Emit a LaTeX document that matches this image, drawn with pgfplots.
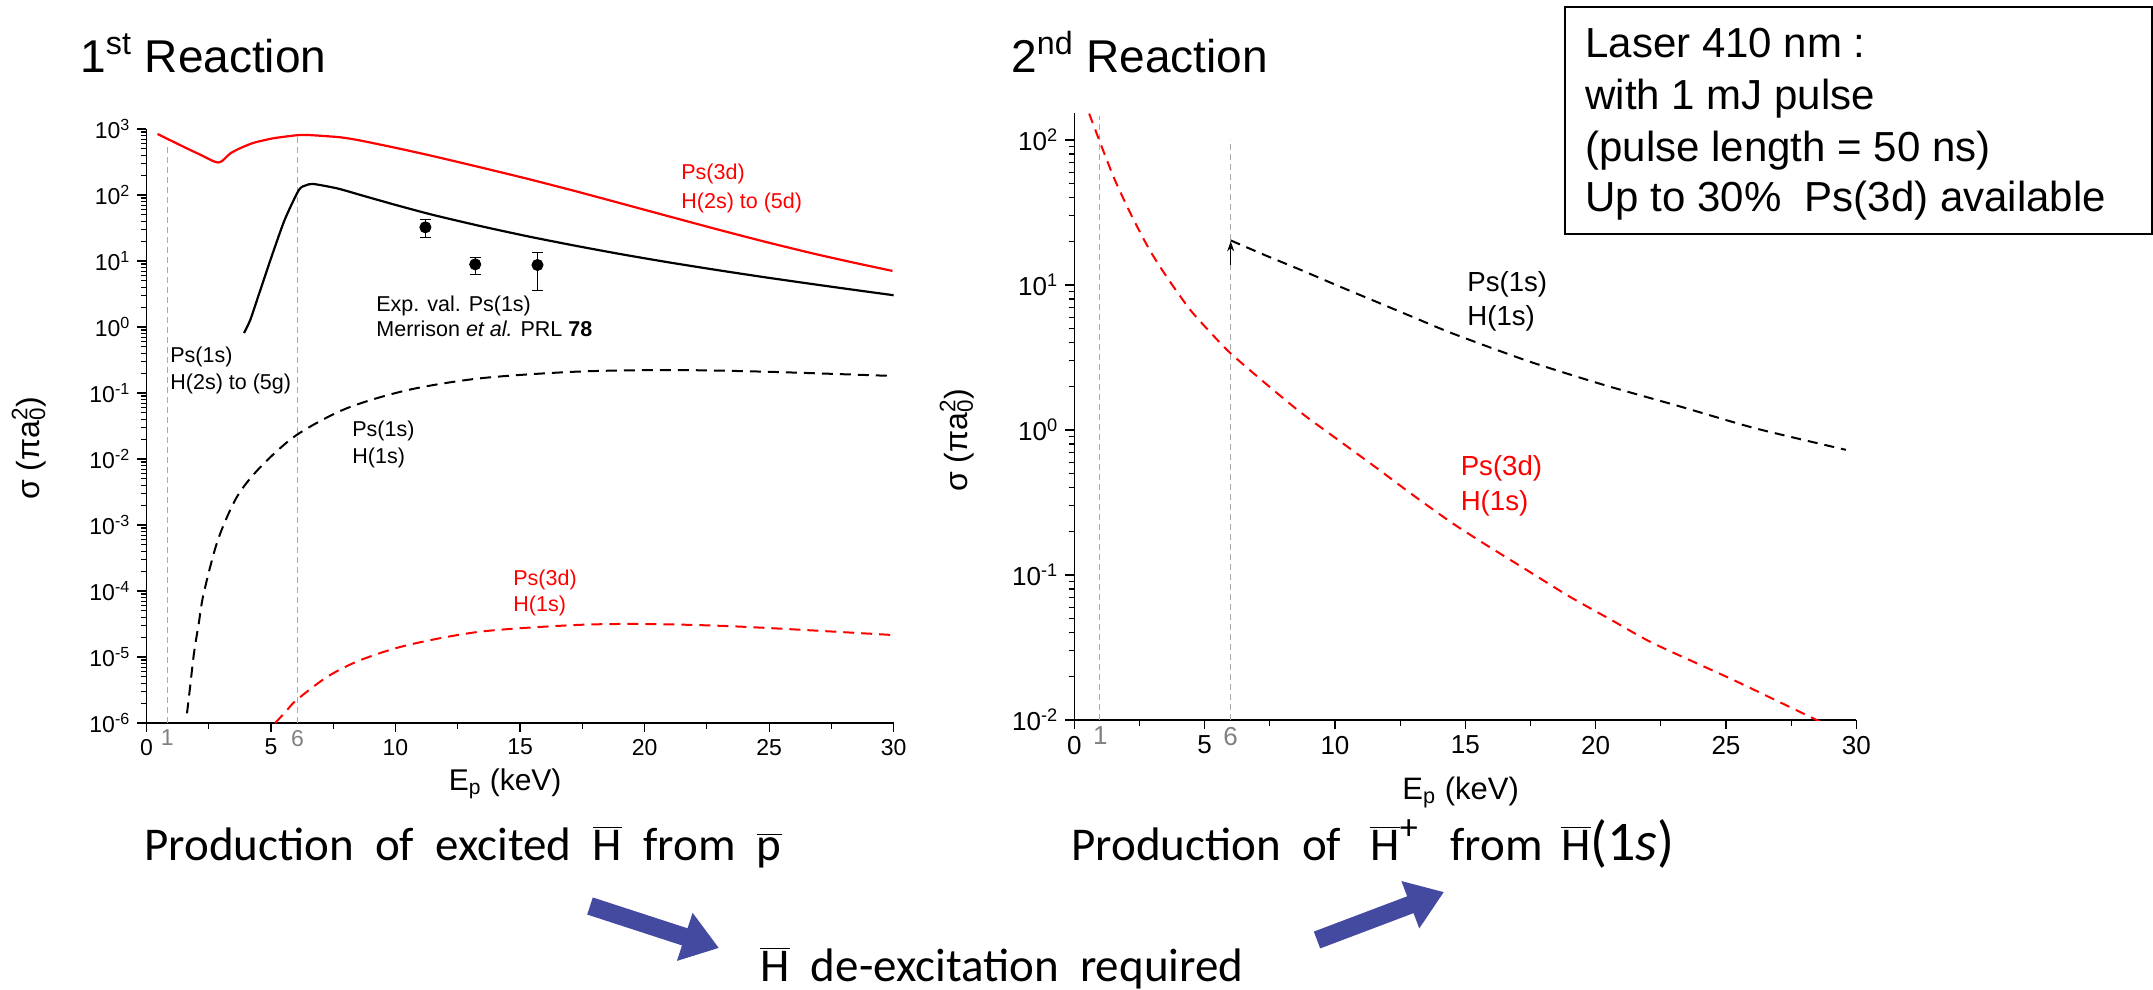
\documentclass[border=0pt]{standalone}
\usepackage{fontspec}
\setmainfont{Liberation Sans}
\newfontfamily\calibri{Carlito}
\usepackage{pgfplots}
\pgfplotsset{compat=1.18}
\usetikzlibrary{arrows.meta}
\definecolor{arrowblue}{RGB}{68,74,160}
\definecolor{vgray}{RGB}{170,170,170}
\pgfplotsset{
  log number format basis/.code 2 args={#1\textsuperscript{\pgfmathprintnumber{#2}}},
}
\begin{document}
\begin{tikzpicture}
\path[use as bounding box] (0pt,0pt) rectangle (1076.5pt,-495pt);

% ---------------- left axis ----------------
\begin{axis}[
  scale only axis,
  axis lines=left, axis line style={-},
  x axis line style={line width=1.3pt},
  y axis line style={line width=0.8pt},
  tick align=outside,
  major tick length=4.5pt, minor tick length=2.8pt,
  every tick/.style={black, line width=0.6pt},
  ymode=log, xmin=0, xmax=30,
  xtick={0,5,...,30}, minor x tick num=1,
  xlabel={E\textsubscript{p} (keV)},
  ylabel={σ (πa\rlap{\textsubscript{0}}\textsuperscript{2})},
  at={(73.2pt,-361.5pt)}, anchor=south west,
  width=373.65pt, height=297pt,
  ymin=1e-6, ymax=1e3,
  ytick={1e-6,1e-5,1e-4,1e-3,1e-2,1e-1,1,10,100,1000},
  minor ytick={2e-6,3e-6,4e-6,5e-6,6e-6,7e-6,8e-6,9e-6,
    2e-5,3e-5,4e-5,5e-5,6e-5,7e-5,8e-5,9e-5,
    2e-4,3e-4,4e-4,5e-4,6e-4,7e-4,8e-4,9e-4,
    2e-3,3e-3,4e-3,5e-3,6e-3,7e-3,8e-3,9e-3,
    0.02,0.03,0.04,0.05,0.06,0.07,0.08,0.09,
    0.2,0.3,0.4,0.5,0.6,0.7,0.8,0.9,
    2,3,4,5,6,7,8,9,20,30,40,50,60,70,80,90,
    200,300,400,500,600,700,800,900},
  extra x ticks={0.84,6.07}, extra x tick labels={\textcolor{gray}{1},\textcolor{gray}{6}},
  extra x tick style={major tick length=0pt},
  tick label style={font=\fontsize{11.5}{13}\selectfont},
  xlabel style={font=\fontsize{15}{17}\selectfont, at={(axis description cs:0.48,-0.1128)}, anchor=base},
  ylabel style={font=\fontsize{16}{18}\selectfont, at={(axis description cs:-0.157,0.463)}, anchor=center},
  /pgf/number format/assume math mode=true,
]
\addplot[vgray, line width=0.5pt, dash pattern=on 3pt off 2pt] coordinates {(0.84,1e-6)(0.84,570)};
\addplot[vgray, line width=0.5pt, dash pattern=on 3pt off 2pt] coordinates {(6.07,1e-6)(6.07,760)};
% Ps(3d) -> H(2s)..(5d)
\addplot[red, line width=1.1pt, smooth, tension=0.4] coordinates {
(0.45,840)(0.9,692)(1.36,569)(1.8,473)(2.17,407)(2.5,352)(2.72,322)(2.89,311)(3.05,330)(3.37,427)(3.77,513)(4.3,617)(5.1,724)(6.03,804)(6.5,811)(7.77,750)(8.6,668)(10,519)(11.5,389)(13.4,263)(15.3,176)(17.2,115)(19.1,73.8)(21,47.2)(23,29.6)(24.9,19.3)(26.8,12.9)(28.4,9.44)(29.95,7.08)};
% Ps(1s) -> H(2s)..(5g)
\addplot[black, line width=1.1pt, smooth, tension=0.4] coordinates {
(3.92,0.81)(4.17,1.28)(4.5,3.0)(4.98,10.4)(5.55,42)(6.12,119)(6.4,140)(6.7,147)(7.66,126)(8.6,100)(10,70.8)(11.5,50)(13.4,33.9)(15.3,23.7)(17.2,17.1)(19.1,12.6)(21,9.5)(23,7.21)(24.9,5.62)(26.8,4.44)(28.4,3.66)(30,3.03)};
% experimental values
\addplot[black, only marks, mark=*, mark size=2.8pt,
  error bars/.cd, y dir=both, y explicit,
  error bar style={line width=0.5pt, black},
  error mark options={rotate=90, mark size=2.8pt, line width=0.5pt, black}]
  coordinates {(11.2,32.4) += (0,10.5) -= (0,9.5)
               (13.2,8.9) += (0,2.5) -= (0,2.6)
               (15.7,8.7) += (0,4.8) -= (0,5.1)};
% Ps(1s) -> H(1s)
\addplot[black, line width=1pt, dash pattern=on 5.5pt off 3.5pt, smooth] coordinates {
(1.63,1.40e-6)(1.75,3.4e-6)(1.91,1.14e-5)(2.1,3.2e-5)(2.30,9.2e-5)(2.87,5.93e-4)(3.64,2.69e-3)(4.59,7.64e-3)(6.03,0.0231)(8.04,0.0586)(10.5,0.111)(13.4,0.167)(17.2,0.210)(21,0.223)(24.9,0.210)(30,0.181)};
% Ps(3d) -> H(1s)
\addplot[red, line width=1pt, dash pattern=on 5.5pt off 3.5pt, smooth] coordinates {
(5.17,1.0e-6)(5.6,1.5e-6)(6.03,2.23e-6)(7.27,5.04e-6)(8.6,9.0e-6)(10.5,1.52e-5)(13.4,2.42e-5)(17.2,3.05e-5)(20.1,3.16e-5)(23.9,2.88e-5)(30,2.15e-5)};
\end{axis}

% ---------------- right axis ----------------
\begin{axis}[
  scale only axis,
  axis lines=left, axis line style={-},
  x axis line style={line width=1.3pt},
  y axis line style={line width=0.8pt},
  tick align=outside,
  major tick length=4.5pt, minor tick length=2.8pt,
  every tick/.style={black, line width=0.6pt},
  ymode=log, xmin=0, xmax=30,
  xtick={0,5,...,30}, minor x tick num=1,
  xlabel={E\textsubscript{p} (keV)},
  ylabel={σ (πa\rlap{\textsubscript{0}}\textsuperscript{2})},
  at={(537.15pt,-360pt)}, anchor=south west,
  width=391pt, height=303.5pt,
  ymin=0.01, ymax=153.5,
  ytick={0.01,0.1,1,10,100},
  minor ytick={0.02,0.03,0.04,0.05,0.06,0.07,0.08,0.09,
    0.2,0.3,0.4,0.5,0.6,0.7,0.8,0.9,
    2,3,4,5,6,7,8,9,20,30,40,50,60,70,80,90},
  extra x ticks={1,6}, extra x tick labels={\textcolor{gray}{1},\textcolor{gray}{6}},
  extra x tick style={major tick length=0pt},
  tick label style={font=\fontsize{13}{15}\selectfont},
  xlabel style={font=\fontsize{15.5}{17}\selectfont, at={(axis description cs:0.494,-0.131)}, anchor=base},
  ylabel style={font=\fontsize{16}{18}\selectfont, at={(axis description cs:-0.150,0.461)}, anchor=center},
  /pgf/number format/assume math mode=true,
]
\addplot[vgray, line width=0.5pt, dash pattern=on 3pt off 2pt] coordinates {(0.97,0.01)(0.97,147)};
\addplot[vgray, line width=0.5pt, dash pattern=on 3pt off 2pt] coordinates {(5.98,0.01)(5.98,100)};
% Ps(3d) + H(1s)
\addplot[red, line width=1pt, dash pattern=on 5pt off 3.5pt, smooth, tension=0.4] coordinates {
(0.57,152)(1.0,95)(1.54,53.8)(2.2,30)(2.90,17.3)(3.6,11)(4.44,6.76)(5.2,4.75)(5.98,3.40)(7.3,2.12)(8.69,1.32)(10.1,0.86)(11.58,0.55)(13,0.355)(14.5,0.228)(15.69,0.166)(17.4,0.107)(19.01,0.0708)(20.6,0.049)(22.21,0.0338)(25.28,0.0189)(28.48,0.0100)(28.6,0.0097)};
% Ps(1s) + H(1s)
\addplot[black, line width=1pt, dash pattern=on 5pt off 3.5pt, smooth, tension=0.4] coordinates {
(6.0,20.3)(7.3,16.1)(8.69,12.7)(10.1,9.9)(11.58,7.67)(13,6.0)(14.5,4.64)(17.4,2.99)(20.3,2.05)(23.2,1.46)(26.1,1.03)(29.6,0.73)};
\addplot[black, line width=0.5pt, -{Stealth[length=5pt,width=3.5pt]}] coordinates {(6,13.8)(6,20)};
\end{axis}

% ---------------- annotations ----------------
\node[anchor=base west, font=\fontsize{23}{26}\selectfont, inner sep=0pt] at (40pt,-36.5pt) {1\textsuperscript{st} Reaction};
\node[anchor=base west, font=\fontsize{23}{26}\selectfont, inner sep=0pt] at (505.5pt,-36.5pt) {2\textsuperscript{nd} Reaction};

\draw[line width=1pt] (782.5pt,-3.5pt) rectangle (1076pt,-117pt);
\begin{scope}[every node/.style={anchor=base west, inner sep=0pt, font=\fontsize{21}{24}\selectfont}]
\node at (792.5pt,-29pt) {Laser 410 nm :};
\node at (792.5pt,-55pt) {with 1 mJ pulse};
\node at (792.5pt,-81pt) {(pulse length = 50 ns)};
\node at (792.5pt,-106pt) {Up to 30\%\ \ Ps(3d) available};
\end{scope}

\begin{scope}[every node/.style={anchor=base west, inner sep=0pt, font=\fontsize{10.75}{12}\selectfont}]
\node[text=red] at (340.5pt,-89.6pt) {Ps(3d)};
\node[text=red] at (340.5pt,-104pt) {H(2s) to (5d)};
\node at (188pt,-155.5pt) {Exp. val. Ps(1s)};
\node at (188pt,-168.3pt) {Merrison \textit{et al.} PRL \textbf{78}};
\node at (85pt,-181pt) {Ps(1s)};
\node at (85pt,-194.5pt) {H(2s) to (5g)};
\node at (176pt,-218.3pt) {Ps(1s)};
\node at (176pt,-231.7pt) {H(1s)};
\node[text=red] at (256.5pt,-292.5pt) {Ps(3d)};
\node[text=red] at (256.5pt,-305.8pt) {H(1s)};
\end{scope}
\begin{scope}[every node/.style={anchor=base west, inner sep=0pt, font=\fontsize{13.8}{15}\selectfont}]
\node at (733.5pt,-145.9pt) {Ps(1s)};
\node at (733.5pt,-162.7pt) {H(1s)};
\node[text=red] at (730.2pt,-237.8pt) {Ps(3d)};
\node[text=red] at (730.2pt,-255pt) {H(1s)};
\end{scope}

\begin{scope}[every node/.style={anchor=base west, inner sep=0pt, font=\calibri\fontsize{23.5}{26}\selectfont}]
\node at (72pt,-430pt) {Production\ \ of\ \ excited\ \ $\overline{\hbox{H}}$\ \ from\ \ $\overline{\hbox{p}}$};
\node at (535.5pt,-430pt) {Production\ \ of\ \ \,$\overline{\hbox{H}}^{\hbox{\fontsize{18}{20}\selectfont +}}$\ \ \ from\ \,$\overline{\hbox{H}}$\hbox{\fontsize{28}{30}\selectfont(1\textit{s})}};
\node at (380pt,-490.5pt) {$\overline{\hbox{H}}$\ \ de-excitation\ \ required};
\end{scope}

\draw[arrowblue, line width=9pt, -{Triangle[width=24pt,length=18pt]}] (295pt,-453pt) -- (359.5pt,-474pt);
\draw[arrowblue, line width=9pt, -{Triangle[width=24pt,length=18pt]}] (658.5pt,-470pt) -- (722pt,-446pt);
\end{tikzpicture}
\end{document}
